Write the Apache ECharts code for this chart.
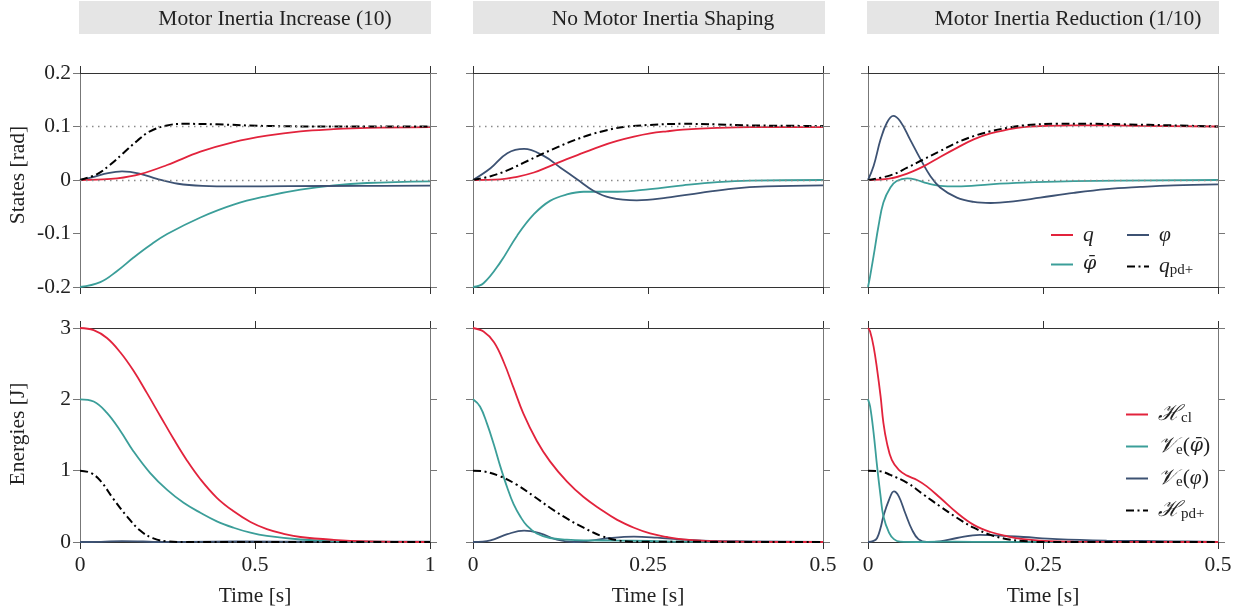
<!DOCTYPE html>
<html>
<head>
<meta charset="utf-8">
<script src="https://cdn.jsdelivr.net/npm/echarts@6/dist/echarts.min.js"></script>
<style>html,body{margin:0;padding:0;background:#fff}#c{width:1244px;height:614px}</style>
</head>
<body>
<div id="c"></div>
<script>
// ---------- data ----------
const PANEL_TITLES = ['Motor Inertia Increase (10)', 'No Motor Inertia Shaping', 'Motor Inertia Reduction (1/10)'];
const X_MAX = [1, 0.5, 0.5];
const X_INTERVAL = [0.5, 0.25, 0.25];
const REF_LINES = [0.1, 0];

// top row, panel 1
const T1_q = [0, 0.05, 0.106, 0.172, 0.249, 0.344, 0.439, 0.534, 0.63, 0.725, 0.82, 1.0];
const V1_q = [0, 0.0008, 0.003, 0.011, 0.028, 0.053, 0.071, 0.083, 0.091, 0.095, 0.0975, 0.099];
const T1_phi = [0, 0.04, 0.08, 0.12, 0.17, 0.22, 0.28, 0.35, 0.44, 0.6, 0.8, 1.0];
const V1_phi = [0, 0.006, 0.013, 0.016, 0.012, 0.002, -0.007, -0.011, -0.012, -0.0115, -0.011, -0.0105];
const T1_phib = [0, 0.058, 0.106, 0.153, 0.2, 0.249, 0.344, 0.439, 0.534, 0.63, 0.725, 0.82, 1.0];
const V1_phib = [-0.2, -0.191, -0.17, -0.145, -0.122, -0.101, -0.07, -0.046, -0.03, -0.018, -0.01, -0.0056, -0.0025];
const T1_qpd = [0, 0.049, 0.087, 0.125, 0.163, 0.2, 0.249, 0.296, 0.39, 0.534, 0.725, 1.0];
const V1_qpd = [0, 0.011, 0.029, 0.051, 0.073, 0.091, 0.102, 0.105, 0.104, 0.101, 0.1, 0.1];

// top row, panel 2
const T2_q = [0, 0.039, 0.063, 0.087, 0.11, 0.134, 0.158, 0.182, 0.206, 0.23, 0.253, 0.277, 0.3, 0.349, 0.396, 0.5];
const V2_q = [0, 0.001, 0.006, 0.014, 0.026, 0.039, 0.051, 0.063, 0.073, 0.081, 0.087, 0.091, 0.094, 0.0975, 0.099, 0.099];
const T2_phi = [0, 0.025, 0.049, 0.073, 0.101, 0.125, 0.149, 0.172, 0.196, 0.234, 0.277, 0.325, 0.372, 0.42, 0.5];
const V2_phi = [0, 0.022, 0.05, 0.058, 0.045, 0.023, 0.001, -0.02, -0.033, -0.038, -0.033, -0.024, -0.016, -0.012, -0.01];
const T2_phib = [0, 0.015, 0.039, 0.063, 0.087, 0.11, 0.134, 0.158, 0.206, 0.253, 0.3, 0.349, 0.396, 0.5];
const V2_phib = [-0.2, -0.193, -0.154, -0.104, -0.064, -0.039, -0.027, -0.022, -0.022, -0.017, -0.01, -0.004, -0.001, 0];
const T2_qpd = [0, 0.025, 0.049, 0.072, 0.096, 0.12, 0.144, 0.168, 0.191, 0.215, 0.253, 0.3, 0.349, 0.396, 0.5];
const V2_qpd = [0, 0.007, 0.018, 0.032, 0.047, 0.061, 0.074, 0.085, 0.093, 0.099, 0.103, 0.105, 0.104, 0.102, 0.101];

// top row, panel 3
const T3_q = [0, 0.032, 0.056, 0.08, 0.103, 0.127, 0.151, 0.175, 0.199, 0.222, 0.246, 0.294, 0.341, 0.389, 0.5];
const V3_q = [0, 0.003, 0.012, 0.026, 0.043, 0.06, 0.076, 0.087, 0.094, 0.099, 0.1006, 0.102, 0.102, 0.101, 0.1];
const T3_phi = [0, 0.008, 0.018, 0.027, 0.036, 0.046, 0.06, 0.075, 0.089, 0.103, 0.127, 0.151, 0.175, 0.208, 0.246, 0.294, 0.341, 0.389, 0.437, 0.5];
const V3_phi = [0, 0.026, 0.076, 0.107, 0.12, 0.11, 0.076, 0.039, 0.0075, -0.014, -0.033, -0.041, -0.043, -0.04, -0.033, -0.024, -0.017, -0.013, -0.01, -0.008];
const T3_phib = [0, 0.003, 0.008, 0.015, 0.022, 0.032, 0.041, 0.056, 0.07, 0.084, 0.103, 0.127, 0.175, 0.222, 0.294, 0.5];
const V3_phib = [-0.2, -0.18, -0.142, -0.086, -0.042, -0.014, -0.002, 0.003, 0, -0.006, -0.011, -0.012, -0.008, -0.005, -0.002, 0];
const T3_qpd = [0, 0.032, 0.056, 0.08, 0.103, 0.127, 0.151, 0.175, 0.199, 0.222, 0.27, 0.318, 0.365, 0.437, 0.5];
const V3_qpd = [0, 0.0087, 0.023, 0.039, 0.054, 0.07, 0.082, 0.091, 0.0975, 0.102, 0.105, 0.105, 0.104, 0.102, 0.1];

// bottom row, panel 1
const T4_H = [0, 0.039, 0.077, 0.115, 0.153, 0.191, 0.23, 0.268, 0.306, 0.344, 0.391, 0.439, 0.487, 0.534, 0.582, 0.63, 0.725, 0.82, 1.0];
const V4_H = [3, 2.97, 2.86, 2.66, 2.40, 2.09, 1.76, 1.44, 1.14, 0.88, 0.62, 0.43, 0.28, 0.18, 0.115, 0.07, 0.03, 0.01, 0];
const T4_Vb = [0, 0.039, 0.077, 0.115, 0.153, 0.2, 0.249, 0.296, 0.344, 0.391, 0.439, 0.487, 0.534, 0.63, 0.725, 1.0];
const V4_Vb = [2, 1.97, 1.81, 1.56, 1.27, 0.97, 0.73, 0.55, 0.41, 0.29, 0.2, 0.13, 0.085, 0.035, 0.012, 0];
const T4_V = [0, 0.06, 0.12, 0.18, 0.22, 0.3, 0.45, 0.7, 1.0];
const V4_V = [0, 0.003, 0.013, 0.007, 0.0, 0.003, 0.007, 0.006, 0.005];
const T4_Hpd = [0, 0.03, 0.058, 0.096, 0.134, 0.172, 0.21, 0.249, 0.3, 1.0];
const V4_Hpd = [1, 0.97, 0.86, 0.6, 0.36, 0.16, 0.05, 0.01, 0, 0];

// bottom row, panel 2
const T5_H = [0, 0.015, 0.03, 0.044, 0.058, 0.072, 0.091, 0.11, 0.134, 0.158, 0.182, 0.206, 0.23, 0.253, 0.277, 0.3, 0.349, 0.5];
const V5_H = [3, 2.95, 2.8, 2.52, 2.16, 1.8, 1.42, 1.13, 0.85, 0.63, 0.46, 0.31, 0.2, 0.12, 0.07, 0.037, 0.01, 0];
const T5_Vb = [0, 0.01, 0.02, 0.03, 0.039, 0.049, 0.058, 0.068, 0.077, 0.091, 0.11, 0.134, 0.158, 0.206, 0.253, 0.3, 0.5];
const V5_Vb = [2, 1.9, 1.66, 1.36, 1.06, 0.76, 0.53, 0.35, 0.23, 0.12, 0.056, 0.033, 0.023, 0.02, 0.014, 0.005, 0];
const T5_V = [0, 0.025, 0.049, 0.073, 0.096, 0.12, 0.144, 0.168, 0.196, 0.23, 0.263, 0.3, 0.349, 0.5];
const V5_V = [0, 0.023, 0.11, 0.16, 0.12, 0.033, 0, 0.02, 0.056, 0.075, 0.06, 0.033, 0.014, 0];
const T5_Hpd = [0, 0.015, 0.039, 0.063, 0.087, 0.11, 0.134, 0.158, 0.182, 0.206, 0.23, 0.5];
const V5_Hpd = [1, 0.99, 0.92, 0.8, 0.64, 0.48, 0.33, 0.2, 0.09, 0.025, 0.005, 0];

// bottom row, panel 3
const T6_H = [0, 0.003, 0.008, 0.013, 0.018, 0.022, 0.027, 0.034, 0.044, 0.056, 0.07, 0.084, 0.103, 0.127, 0.151, 0.175, 0.199, 0.222, 0.246, 0.294, 0.5];
const V6_H = [3, 2.95, 2.74, 2.42, 2.04, 1.67, 1.39, 1.15, 1.01, 0.93, 0.87, 0.78, 0.62, 0.41, 0.24, 0.14, 0.08, 0.04, 0.02, 0.005, 0];
const T6_Vb = [0, 0.003, 0.008, 0.013, 0.018, 0.022, 0.03, 0.037, 0.046, 0.07, 0.1, 0.15, 0.5];
const V6_Vb = [2, 1.9, 1.53, 1.06, 0.64, 0.36, 0.13, 0.04, 0.005, 0, 0.006, 0.003, 0];
const T6_V = [0, 0.008, 0.013, 0.018, 0.022, 0.03, 0.037, 0.044, 0.053, 0.063, 0.072, 0.084, 0.103, 0.127, 0.16, 0.189, 0.222, 0.27, 0.341, 0.437, 0.5];
const V6_V = [0, 0.015, 0.056, 0.2, 0.36, 0.59, 0.71, 0.64, 0.41, 0.17, 0.04, 0, 0.01, 0.056, 0.1, 0.09, 0.07, 0.04, 0.02, 0.01, 0];
const T6_Hpd = [0, 0.018, 0.032, 0.056, 0.08, 0.103, 0.127, 0.151, 0.175, 0.199, 0.222, 0.25, 0.5];
const V6_Hpd = [1, 0.99, 0.94, 0.83, 0.66, 0.5, 0.34, 0.2, 0.1, 0.04, 0.014, 0, 0];

// ---------- styling / layout ----------
const FONT = 'Liberation Serif';
const FS = 21.5;
const RED = '#e2233c', TEAL = '#3b9e99', NAVY = '#3d5273', BLACK = '#000';
const COL_LEFT = [80, 473, 868];
const ROW_TOP = [73, 328];
const GW = 350, GH = 214;

const pairs = (T, V) => T.map((t, i) => [t, V[i]]);

const grids = [], xAxes = [], yAxes = [], series = [];
const axisTick = (c) => ({show: true, inside: false, length: 7, lineStyle: {color: c, width: 1}});
const labelStyle = {fontFamily: FONT, fontSize: FS, color: '#222'};

for (let r = 0; r < 2; r++) {
  for (let c = 0; c < 3; c++) {
    const g = r * 3 + c;
    grids.push({left: COL_LEFT[c], top: ROW_TOP[r], width: GW, height: GH, containLabel: false});
    const xBase = {gridIndex: g, type: 'value', min: 0, max: X_MAX[c], interval: X_INTERVAL[c],
      splitLine: {show: false}, axisLine: {show: true, onZero: false, lineStyle: {color: '#333', width: 1}},
      axisTick: axisTick('#333')};
    xAxes.push(Object.assign({}, xBase, {position: 'bottom',
      axisLabel: Object.assign({show: r === 1, margin: 12, showMinLabel: true, showMaxLabel: true}, labelStyle)}));
    xAxes.push(Object.assign({}, xBase, {position: 'top', axisLabel: {show: false}}));
    const yr = r === 0 ? {min: -0.2, max: 0.2, interval: 0.1} : {min: 0, max: 3, interval: 1};
    const yBase = Object.assign({gridIndex: g, type: 'value', splitLine: {show: false},
      axisLine: {show: true, onZero: false, lineStyle: {color: '#777', width: 1}}, axisTick: axisTick('#777')}, yr);
    yAxes.push(Object.assign({}, yBase, {position: 'left',
      axisLabel: Object.assign({show: c === 0, margin: 9, showMinLabel: true, showMaxLabel: true}, labelStyle)}));
    yAxes.push(Object.assign({}, yBase, {position: 'right', axisLabel: {show: false}}));
  }
}

function line(g, name, T, V, color, dash) {
  series.push({
    type: 'line', name: name, xAxisIndex: g * 2, yAxisIndex: g * 2,
    data: pairs(T, V), symbol: 'none', smooth: 0.4, z: 3,
    lineStyle: {color: color, width: dash ? 2 : 1.8, type: dash ? [8, 3.5, 2, 3.5] : 'solid'},
    itemStyle: {color: color}, animation: false
  });
}

// dotted reference lines on the top row
for (let c = 0; c < 3; c++) {
  series.push({type: 'line', name: 'ref', xAxisIndex: c * 2, yAxisIndex: c * 2, data: [], z: 1,
    markLine: {silent: true, symbol: 'none', label: {show: false}, animation: false,
      lineStyle: {type: [1.5, 4.5], color: '#8a8a8a', width: 1.3},
      data: REF_LINES.map(v => ({yAxis: v}))}});
}

const N_Q = 'q', N_PHIB = 'φ̄', N_PHI = 'φ', N_QPD = 'qpd+';
const N_H = 'Hcl', N_VB = 'Veb', N_V = 'Ve', N_HPD = 'Hpd+';

const TOP = [[T1_q, V1_q, T1_phib, V1_phib, T1_phi, V1_phi, T1_qpd, V1_qpd],
             [T2_q, V2_q, T2_phib, V2_phib, T2_phi, V2_phi, T2_qpd, V2_qpd],
             [T3_q, V3_q, T3_phib, V3_phib, T3_phi, V3_phi, T3_qpd, V3_qpd]];
TOP.forEach((d, c) => {
  line(c, N_PHIB, d[2], d[3], TEAL);
  line(c, N_PHI, d[4], d[5], NAVY);
  line(c, N_Q, d[0], d[1], RED);
  line(c, N_QPD, d[6], d[7], BLACK, true);
});
const BOT = [[T4_H, V4_H, T4_Vb, V4_Vb, T4_V, V4_V, T4_Hpd, V4_Hpd],
             [T5_H, V5_H, T5_Vb, V5_Vb, T5_V, V5_V, T5_Hpd, V5_Hpd],
             [T6_H, V6_H, T6_Vb, V6_Vb, T6_V, V6_V, T6_Hpd, V6_Hpd]];
BOT.forEach((d, c) => {
  line(3 + c, N_V, d[4], d[5], NAVY);
  line(3 + c, N_VB, d[2], d[3], TEAL);
  line(3 + c, N_H, d[0], d[1], RED);
  line(3 + c, N_HPD, d[6], d[7], BLACK, true);
});

const LEGEND_TEXT = {
  'q': '{i|q}', 'φ̄': '{b|φ̄}', 'φ': '{i|φ}', 'qpd+': '{i|q}{s|pd+}',
  'Hcl': '{c|ℋ}{s|cl}', 'Veb': '{c|𝒱}{s|e}{n|(}{b|φ̄}{n|)}', 'Ve': '{c|𝒱}{s|e}{n|(}{i|φ}{n|)}', 'Hpd+': '{c|ℋ}{s|pd+}'
};
const rich = {
  i: {fontFamily: FONT, fontStyle: 'italic', fontSize: FS, lineHeight: 20, color: '#222'},
  b: {fontFamily: 'DejaVu Serif', fontStyle: 'italic', fontSize: 19, lineHeight: 20, color: '#222'},
  n: {fontFamily: FONT, fontSize: FS, lineHeight: 20, color: '#222'},
  c: {fontFamily: FONT, fontStyle: 'italic', fontSize: FS, lineHeight: 20, color: '#222'},
  s: {fontFamily: FONT, fontSize: 15, lineHeight: 14, padding: [8, 0, 0, 0], color: '#222'}
};
const legendBase = {orient: 'vertical', padding: 0, itemWidth: 22, itemHeight: 20, itemGap: 9,
  selectedMode: false, formatter: n => LEGEND_TEXT[n],
  itemStyle: {color: 'rgba(0,0,0,0)', borderWidth: 0, opacity: 0},
  textStyle: {rich: rich, padding: [0, 0, 0, 5]}};

const graphic = [];
const TITLE_BOX = [[79, 352], [473, 352], [867, 352]];
const TITLE_X = [275, 663, 1068];
const txt = (s, x, y, rot) => ({type: 'text', x: x, y: y, rotation: rot || 0, style: {text: s, fontFamily: FONT, fontSize: FS,
  fill: '#222', align: 'center', verticalAlign: 'middle', textAlign: 'center', textVerticalAlign: 'middle'}, z: 2});
for (let c = 0; c < 3; c++) {
  graphic.push({type: 'rect', shape: {x: TITLE_BOX[c][0], y: 1, width: TITLE_BOX[c][1], height: 33}, style: {fill: '#e5e5e5'}, z: 0});
  graphic.push(txt(PANEL_TITLES[c], TITLE_X[c], 19));
  graphic.push(txt('Time [s]', COL_LEFT[c] + GW / 2, 596));
}
graphic.push(txt('States [rad]', 18, 175, Math.PI / 2));
graphic.push(txt('Energies [J]', 18, 434, Math.PI / 2));

const chart = echarts.init(document.getElementById('c'), null, {renderer: 'canvas'});
chart.setOption({
  animation: false,
  backgroundColor: '#fff',
  grid: grids, xAxis: xAxes, yAxis: yAxes, series: series, graphic: graphic,
  legend: [
    Object.assign({}, legendBase, {left: 1050, top: 224, data: [N_Q, N_PHIB]}),
    Object.assign({}, legendBase, {left: 1126, top: 224, data: [N_PHI, N_QPD]}),
    Object.assign({}, legendBase, {left: 1125, top: 403, data: [N_H, N_VB, N_V, N_HPD]})
  ]
});
</script>
</body>
</html>
